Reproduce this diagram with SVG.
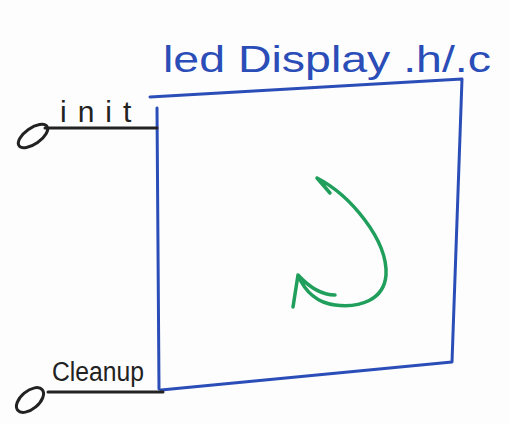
<svg xmlns="http://www.w3.org/2000/svg" width="509" height="424" viewBox="0 0 509 424">
<style>
.blue{fill:none;stroke:#2b4db8;stroke-width:3;stroke-linecap:round;stroke-linejoin:round}
.ink{fill:none;stroke:#222;stroke-width:3;stroke-linecap:round}
.green{fill:none;stroke:#1f9e5c;stroke-width:3.5;stroke-linecap:round;stroke-linejoin:round}
.t{font-family:"Liberation Sans",sans-serif}
</style>
<rect width="509" height="424" fill="#fdfdfd"/>
<g id="module">
<path class="blue" d="M150,97 L462,79 L452,362 L161,390 M157,108 L159,389"/>
<text class="t" x="163" y="72" font-size="36" fill="#2b4db8" textLength="328" lengthAdjust="spacingAndGlyphs">led Display .h/.c</text>
</g>
<g id="init">
<ellipse class="ink" cx="33" cy="136" rx="17" ry="8" transform="rotate(-35 33 136)"/>
<path class="ink" d="M45,128 L157,128"/>
<text class="t" x="60" y="122" font-size="30" fill="#222" letter-spacing="11">init</text>
</g>
<g id="cleanup">
<ellipse class="ink" cx="30" cy="400" rx="16" ry="9" transform="rotate(-40 30 400)"/>
<path class="ink" d="M48,392 L163,392"/>
<text class="t" x="52" y="381" font-size="27" fill="#222" textLength="92" lengthAdjust="spacingAndGlyphs">Cleanup</text>
</g>
<g id="connectors">
<path class="green" d="M317,178 C350,195 388,240 386,275 C384,300 360,308 335,305 C318,303 305,292 298,275 M298,275 L293,307 M298,275 C310,288 322,295 335,295 M317,178 L330,193"/>
</g>
</svg>
